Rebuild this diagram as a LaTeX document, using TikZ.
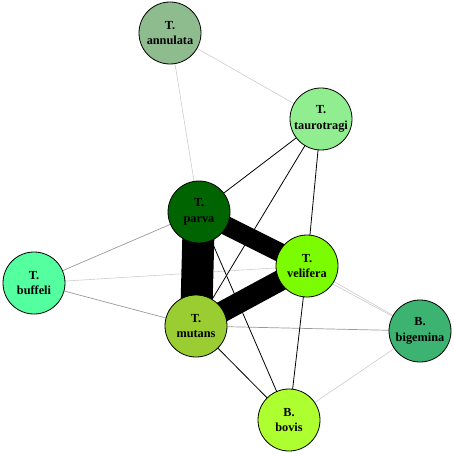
\documentclass[tikz,border=0pt]{standalone}
\usepackage{fontspec}
\setmainfont{Liberation Serif}
\usetikzlibrary{backgrounds}
\usepackage{xcolor}

\definecolor{annulatac}{HTML}{8FBC8F}
\definecolor{taurotragic}{HTML}{90EE90}
\definecolor{parvac}{HTML}{006400}
\definecolor{veliferac}{HTML}{7CFC00}
\definecolor{buffelic}{HTML}{54FF9F}
\definecolor{mutansc}{HTML}{9ACD32}
\definecolor{bigeminac}{HTML}{3CB371}
\definecolor{bovisc}{HTML}{ADFF2F}

\begin{document}
\begin{tikzpicture}[
  x=1pt, y=-1pt,
  sp/.style={circle, draw, line width=0.8pt, minimum size=62pt, inner sep=0pt, align=center,
    font=\fontsize{12.3}{15.5}\selectfont\bfseries},
  faint/.style={draw=black!20, line width=0.6pt},
  weak/.style={draw=black!40, line width=0.7pt},
  link/.style={draw=black, line width=0.8pt}
]
\useasboundingbox (0,0) rectangle (454,454);

\node[sp, fill=annulatac]   (annulata)   at (170,33)  {T.\\annulata};
\node[sp, fill=taurotragic] (taurotragi) at (321,119) {T.\\taurotragi};
\node[sp, fill=parvac]      (parva)      at (199,212) {T.\\parva};
\node[sp, fill=veliferac]   (velifera)   at (307,266) {T.\\velifera};
\node[sp, fill=buffelic]    (buffeli)    at (34,283)  {T.\\buffeli};
\node[sp, fill=mutansc]     (mutans)     at (196,326) {T.\\mutans};
\node[sp, fill=bigeminac]   (bigemina)   at (420,331) {B.\\bigemina};
\node[sp, fill=bovisc]      (bovis)      at (289,420) {B.\\bovis};

\begin{scope}[on background layer]
\draw[faint] (annulata.center) -- (taurotragi.center);
\draw[faint] (annulata.center) -- (parva.center);
\draw[faint] (bigemina.center) -- (bovis.center);
\draw[faint] (velifera.center) -- (bigemina.center);
\draw[faint] (parva.center) -- (bigemina.center);
\draw[faint] (buffeli.center) -- (velifera.center);

\draw[weak] (buffeli.center) -- (parva.center);
\draw[weak] (buffeli.center) -- (mutans.center);
\draw[weak] (mutans.center) -- (bigemina.center);

\draw[link] (taurotragi.center) -- (parva.center);
\draw[link] (taurotragi.center) -- (mutans.center);
\draw[link] (taurotragi.center) -- (velifera.center);
\draw[link] (parva.center) -- (bovis.center);
\draw[link] (mutans.center) -- (bovis.center);
\draw[link] (velifera.center) -- (bovis.center);

\draw[line width=32pt] (parva.center) -- (mutans.center);
\draw[line width=19pt] (parva.center) -- (velifera.center);
\draw[line width=21pt] (velifera.center) -- (mutans.center);
\end{scope}

\end{tikzpicture}
\end{document}
